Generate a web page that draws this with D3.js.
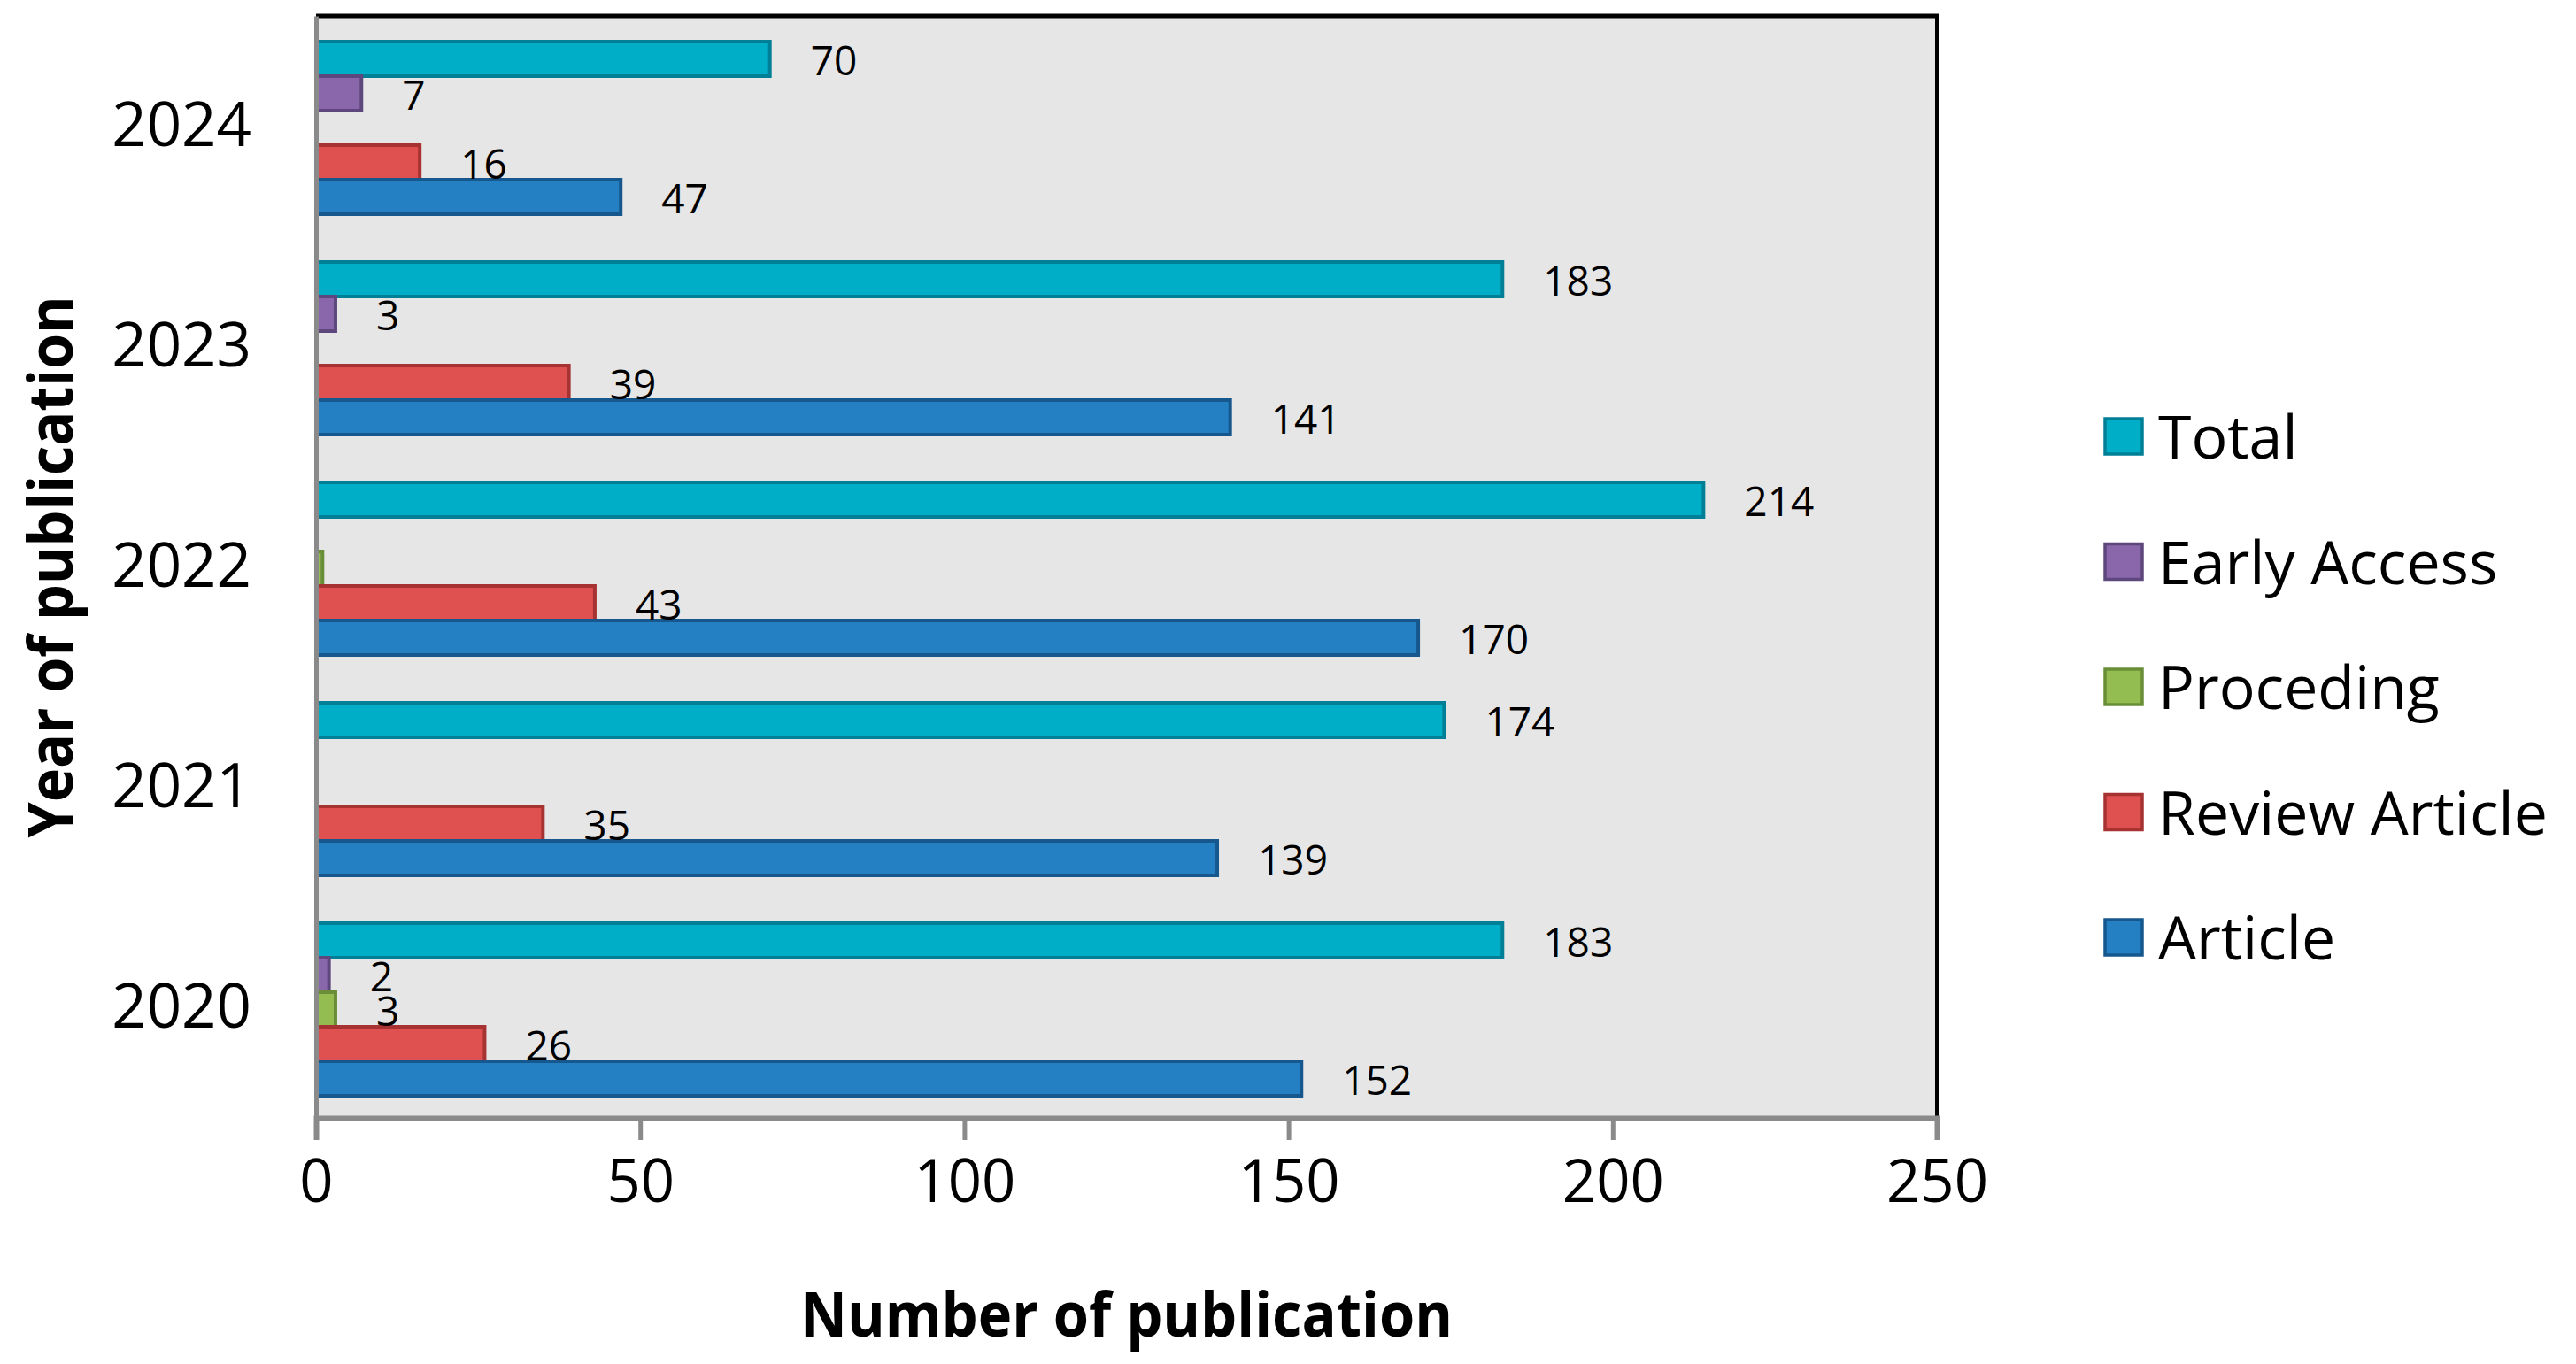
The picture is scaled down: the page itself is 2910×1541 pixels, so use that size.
<!DOCTYPE html>
<html>
<head>
<meta charset="utf-8">
<script src="https://cdn.jsdelivr.net/npm/d3@7/dist/d3.min.js"></script>
<style>
  html, body { margin: 0; padding: 0; background: #ffffff; }
  svg { display: block; }
  text { font-family: "Open Sans", "Noto Sans", sans-serif; fill: #000; }
</style>
</head>
<body>
<svg id="chart" width="2910" height="1541"></svg>
<script>
// ---- data ----
const years = ["2024", "2023", "2022", "2021", "2020"];
const seriesNames = ["Total", "Early Access", "Proceding", "Review Article", "Article"];
const totalValues        = [70, 183, 214, 174, 183];
const earlyAccessValues  = [7, 3, 0, 0, 2];
const procedingValues    = [0, 0, 1, 0, 3];
const reviewValues       = [16, 39, 43, 35, 26];
const articleValues      = [47, 141, 170, 139, 152];
const hiddenLabels       = [["2022", "Proceding"]];
const xTicks = [0, 50, 100, 150, 200, 250];
const legendOrder = ["Total", "Early Access", "Proceding", "Review Article", "Article"];

const seriesValues = [totalValues, earlyAccessValues, procedingValues, reviewValues, articleValues];
const fills   = ["#00AEC7", "#8A67AB", "#93BD50", "#DF5050", "#2580C3"];
const strokes = ["#017F96", "#5E477C", "#6A8E37", "#A63232", "#16578E"];

// ---- layout ----
const svg = d3.select("#chart");
const L = 357, R = 2188, T = 18, B = 1263;

const x = d3.scaleLinear().domain([0, 250]).range([L, R]);
const y = d3.scaleBand().domain(years).range([T, B]).paddingInner(0).paddingOuter(0);
const padTop = 29, padBottom = 25;
const inner = d3.scaleBand().domain(seriesNames).range([padTop, y.bandwidth() - padBottom]).padding(0);

// plot background
svg.append("rect").attr("x", L).attr("y", T).attr("width", R - L).attr("height", B - T)
  .attr("fill", "#E6E6E6");

// bars
const rows = [];
years.forEach((yr, i) => {
  seriesNames.forEach((s, j) => {
    rows.push({ year: yr, series: s, value: seriesValues[j][i], j });
  });
});

const g = svg.append("g");
rows.filter(d => d.value > 0).forEach(d => {
  g.append("rect")
    .attr("x", x(0))
    .attr("y", y(d.year) + inner(d.series))
    .attr("width", x(d.value) - x(0))
    .attr("height", inner.bandwidth())
    .attr("fill", fills[d.j])
    .attr("stroke", strokes[d.j])
    .attr("stroke-width", 4);
});

// data labels
rows.filter(d => d.value > 0 && !hiddenLabels.some(h => h[0] === d.year && h[1] === d.series))
  .forEach(d => {
    g.append("text")
      .attr("x", x(d.value) + 46)
      .attr("y", y(d.year) + inner(d.series) + inner.bandwidth() / 2 + 2)
      .attr("dy", "0.36em")
      .attr("font-size", 46)
      .text(d.value);
  });

// borders: top & right black
svg.append("line").attr("x1", L).attr("x2", R + 2).attr("y1", T).attr("y2", T)
  .attr("stroke", "#000").attr("stroke-width", 5);
svg.append("line").attr("x1", R).attr("x2", R).attr("y1", T).attr("y2", B)
  .attr("stroke", "#000").attr("stroke-width", 4);

// x axis
const xAxis = d3.axisBottom(x).tickValues(xTicks).tickSize(25).tickPadding(22).tickFormat(d3.format("d"));
const xa = svg.append("g").attr("transform", `translate(0,${B})`).call(xAxis);
xa.select(".domain").attr("stroke", "#8A8A8A").attr("stroke-width", 6);
xa.selectAll(".tick line").attr("stroke", "#8A8A8A").attr("stroke-width", 5);
xa.selectAll(".tick text").attr("font-size", 67).attr("font-family", "Open Sans").attr("fill", "#000")
  .attr("dy", "0.71em");

// y axis
const yAxis = d3.axisLeft(y).tickSize(0).tickPadding(L - 284);
const ya = svg.append("g").attr("transform", `translate(${L},0)`).call(yAxis);
ya.select(".domain").attr("stroke", "#8A8A8A").attr("stroke-width", 5);
ya.selectAll(".tick text").attr("font-size", 69).attr("font-family", "Open Sans").attr("fill", "#000");

// axis titles
svg.append("text")
  .attr("x", (L + R) / 2).attr("y", 1510)
  .attr("text-anchor", "middle").attr("font-weight", "bold").attr("font-size", 70)
  .attr("textLength", 737).attr("lengthAdjust", "spacingAndGlyphs")
  .text("Number of publication");

svg.append("text")
  .attr("transform", `translate(82,${(T + B) / 2}) rotate(-90)`)
  .attr("text-anchor", "middle").attr("font-weight", "bold").attr("font-size", 70)
  .attr("textLength", 612).attr("lengthAdjust", "spacingAndGlyphs")
  .text("Year of publication");

// legend
const legendY = d3.scalePoint().domain(legendOrder).range([494, 1060]);
const lg = svg.append("g");
legendOrder.forEach(s => {
  const j = seriesNames.indexOf(s);
  const cy = legendY(s);
  lg.append("rect").attr("x", 2378).attr("y", cy - 21).attr("width", 42).attr("height", 40)
    .attr("fill", fills[j]).attr("stroke", strokes[j]).attr("stroke-width", 3.5);
  lg.append("text").attr("x", 2438).attr("y", cy).attr("dy", "0.36em")
    .attr("font-size", 68).text(s);
});
</script>
</body>
</html>
